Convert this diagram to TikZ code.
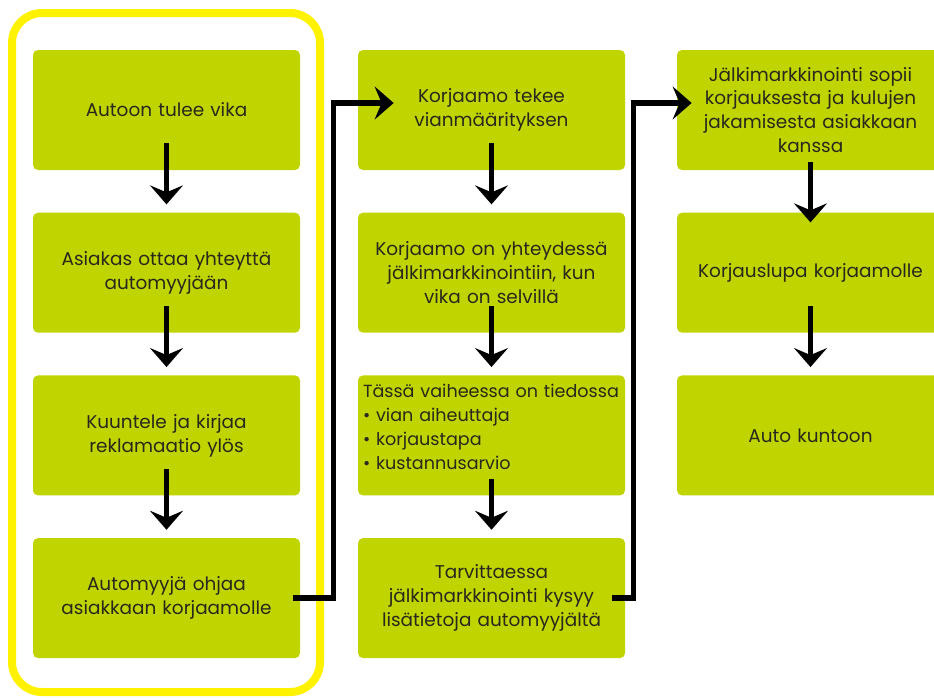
\documentclass[tikz,border=0pt]{standalone}
\usepackage{fontspec}
\setmainfont{Poppins}
\usetikzlibrary{arrows.meta,positioning}
\definecolor{vihrea}{RGB}{192,212,0}
\definecolor{keltainen}{RGB}{255,242,0}
\definecolor{teksti}{RGB}{40,40,30}

\begin{document}
\begin{tikzpicture}[>={Stealth[length=3.8mm,width=6.6mm,inset=1.4mm]},
  vaihe/.style={fill=vihrea,rounded corners=1mm,minimum width=5.34cm,minimum height=2.4cm,align=center,text width=5.0cm,inner sep=1.7mm,text=teksti,font=\fontsize{10.5}{13.6}\selectfont},
  nuoli/.style={->,line width=1.1mm}]
\useasboundingbox (0,0) rectangle (18.68,-13.94);
\clip (0,0) rectangle (18.68,-13.94);
\draw[keltainen,line width=1.6mm,rounded corners=6mm] (0.24,-0.26) rectangle (6.4,-13.84);
% asiakas ja automyyja
\node[vaihe] (as1) at (3.33,-2.2) {Autoon tulee vika};
\node[vaihe,below=0.84cm of as1] (as2) {Asiakas ottaa yhteyttä\\automyyjään};
\node[vaihe,below=0.84cm of as2] (as3) {Kuuntele ja kirjaa\\reklamaatio ylös};
\node[vaihe,below=0.84cm of as3] (as4) {Automyyjä ohjaa\\asiakkaan korjaamolle};
% korjaamo
\node[vaihe] (ko1) at (9.83,-2.2) {Korjaamo tekee\\vianmäärityksen};
\node[vaihe,below=0.84cm of ko1] (ko2) {Korjaamo on yhteydessä\\jälkimarkkinointiin, kun\\vika on selvillä};
\node[vaihe,below=0.84cm of ko2,align=left,text width=5.14cm,inner sep=1mm,font=\fontsize{10}{13.6}\selectfont] (ko3) {Tässä vaiheessa on tiedossa\\• vian aiheuttaja\\• korjaustapa\\• kustannusarvio\\[-1.2mm]\mbox{}};
\node[vaihe,below=0.84cm of ko3] (ko4) {Tarvittaessa\\jälkimarkkinointi kysyy\\lisätietoja automyyjältä};
% jalkimarkkinointi
\node[vaihe] (jm1) at (16.21,-2.2) {Jälkimarkkinointi sopii\\korjauksesta ja kulujen\\jakamisesta asiakkaan\\kanssa};
\node[vaihe,below=0.84cm of jm1] (jm2) {Korjauslupa korjaamolle};
\node[vaihe,below=0.84cm of jm2] (jm3) {Auto kuntoon};

\foreach \a/\b in {as1/as2,as2/as3,as3/as4,ko1/ko2,ko2/ko3,jm2/jm3}
  \draw[nuoli] ([yshift=5.4mm]\a.south) -- ([yshift=1.6mm]\b.north);
\draw[nuoli] ([yshift=3.4mm]ko3.south) -- ([yshift=1.6mm]ko4.north);
\draw[nuoli] ([yshift=1.6mm]jm1.south) -- ([yshift=-2mm]jm2.north);
\draw[nuoli] ([xshift=-1.4mm]as4.east) -- ++(0.8,0) |- ([xshift=7.2mm,yshift=1.4mm]ko1.west);
\draw[nuoli] ([xshift=-2.6mm]ko4.east) -- ++(0.42,0) |- ([xshift=3mm,yshift=1.4mm]jm1.west);
\end{tikzpicture}
\end{document}
